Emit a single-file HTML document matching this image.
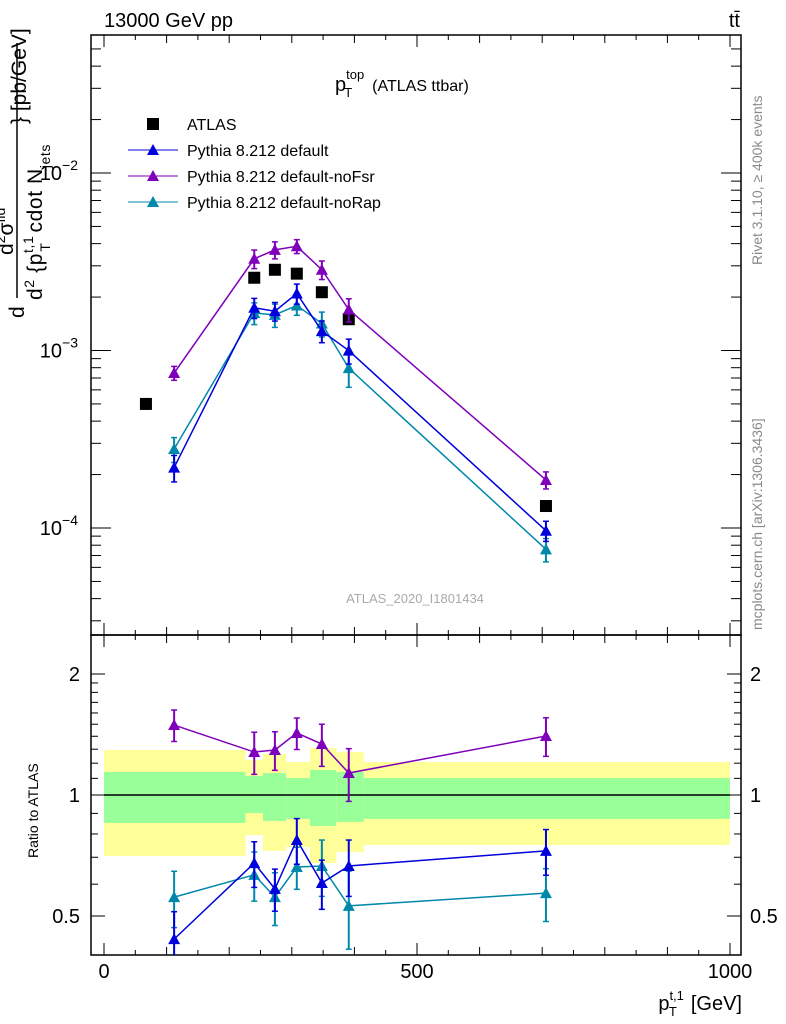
<!DOCTYPE html>
<html><head><meta charset="utf-8"><style>
body{margin:0;background:#fff;}
svg{display:block;font-family:"Liberation Sans",sans-serif;}
</style></head><body>
<svg id="c" width="786" height="1024" viewBox="0 0 786 1024" xmlns="http://www.w3.org/2000/svg">
<text x="104" y="27" font-size="20">13000 GeV pp</text>
<text x="740" y="27" font-size="20" text-anchor="end">tt̄</text>
<text x="335" y="91" font-size="20">p<tspan font-size="13" dy="-12">top</tspan><tspan font-size="13" dx="-20" dy="18">T</tspan><tspan font-size="16" dx="20" dy="-6">(ATLAS ttbar)</tspan></text>
<text x="415" y="603" font-size="13" fill="#aaa" text-anchor="middle">ATLAS_2020_I1801434</text>
<text transform="translate(762,265) rotate(-90)" font-size="14" fill="#888">Rivet 3.1.10, ≥ 400k events</text>
<text transform="translate(762,630) rotate(-90)" font-size="14" fill="#888">mcplots.cern.ch [arXiv:1306.3436]</text>
<g font-size="21">
<text transform="translate(24,318) rotate(-90)">d</text>
<line x1="17" y1="298" x2="17" y2="43" stroke="#000" stroke-width="1.5"/>
<text transform="translate(13,255) rotate(-90)">d<tspan font-size="14" dy="-8">2</tspan><tspan dy="8">σ</tspan><tspan font-size="14" dy="-8">fid</tspan></text>
<text transform="translate(42,300) rotate(-90)" letter-spacing="0.6">d<tspan font-size="14" dy="-8">2</tspan><tspan dy="8"> {p</tspan><tspan font-size="14" dy="-9">t,1</tspan><tspan font-size="14" dx="-16" dy="17">T</tspan><tspan dy="-8" dx="10">cdot N</tspan><tspan font-size="14" dy="8">jets</tspan></text>
<text transform="translate(26,124) rotate(-90)"><tspan>} [pb/GeV]</tspan></text>
</g>
<text transform="translate(38,858) rotate(-90)" font-size="14">Ratio to ATLAS</text>
<text x="742" y="1010" font-size="20" text-anchor="end">p<tspan font-size="13" dy="-10">t,1</tspan><tspan font-size="13" dx="-15" dy="16">T</tspan><tspan dy="-6" dx="14">[GeV]</tspan></text>
<g id="bands"></g><g id="axes"></g><g id="marks"></g>
<g font-size="16">
<rect x="147" y="118" width="12" height="12" fill="#000"/>
<text x="187" y="130">ATLAS</text>
<line x1="128" y1="150" x2="178" y2="150" stroke="#0000dd"/><polygon points="147,155 159,155 153,144" fill="#0000dd"/>
<text x="187" y="156">Pythia 8.212 default</text>
<line x1="128" y1="176" x2="178" y2="176" stroke="#7f00bb"/><polygon points="147,181 159,181 153,170" fill="#7f00bb"/>
<text x="187" y="182">Pythia 8.212 default-noFsr</text>
<line x1="128" y1="202" x2="178" y2="202" stroke="#0088aa"/><polygon points="147,207 159,207 153,196" fill="#0088aa"/>
<text x="187" y="208">Pythia 8.212 default-noRap</text>
</g>
</svg>
<script>
const binEdges=[0,226,254,291,329,371,415,1000];
const xPts=[112,240,273,308,348,391,706];
const atlasX=[67,240,273,308,348,391,706];
const atlasVals=[5.0e-4,2.57e-3,2.85e-3,2.71e-3,2.13e-3,1.50e-3,1.33e-4];
const yellowUp=[1.294,1.222,1.265,1.208,1.309,1.279,1.208];
const yellowDn=[0.705,0.795,0.726,0.742,0.677,0.721,0.751];
const greenUp=[1.141,1.115,1.134,1.102,1.154,1.141,1.102];
const greenDn=[0.852,0.902,0.862,0.872,0.837,0.857,0.872];
const ratioDefault=[0.438,0.677,0.584,0.773,0.604,0.666,0.726];
const ratioNoFsr=[1.493,1.279,1.294,1.426,1.339,1.134,1.402];
const ratioNoRap=[0.557,0.633,0.557,0.662,0.666,0.530,0.570];
const errDefault=[0.17,0.13,0.12,0.13,0.14,0.16,0.13];
const errNoFsr=[0.09,0.12,0.11,0.09,0.12,0.15,0.11];
const errNoRap=[0.16,0.14,0.15,0.12,0.16,0.22,0.15];
const xTicksMajor=[0,500,1000];
const ratioTickLabels=[0.5,1,2];
const mainTickLabels=[-4,-3,-2];

const NS='http://www.w3.org/2000/svg';
const L=91,R=741,T=35,M=635,B=955;
const X=v=>104+v*0.626;
const Y=v=>173-(Math.log10(v)+2)*177.5;
const RY=r=>795-Math.log2(r)*121;
function mk(tag,attrs,parent){const e=document.createElementNS(NS,tag);for(const k in attrs)e.setAttribute(k,attrs[k]);parent.appendChild(e);return e;}
const bands=document.getElementById('bands'),axes=document.getElementById('axes'),marks=document.getElementById('marks');
for(let i=0;i<7;i++){
  const x1=X(binEdges[i]),x2=X(binEdges[i+1]);
  let y=mk('rect',{x:x1,y:RY(yellowUp[i]),width:x2-x1,height:RY(yellowDn[i])-RY(yellowUp[i]),fill:'#ffff99'},bands);
  
  
  let g=mk('rect',{x:x1,y:RY(greenUp[i]),width:x2-x1,height:RY(greenDn[i])-RY(greenUp[i]),fill:'#99ff99'},bands);
  
  
}
let one=mk('line',{x1:X(0),x2:X(1000),y1:RY(1),y2:RY(1),stroke:'#000','stroke-width':1.5},bands);


let f1=mk('rect',{x:L,y:T,width:R-L,height:M-T,fill:'none',stroke:'#000','stroke-width':1.5},axes);


let f2=mk('rect',{x:L,y:M,width:R-L,height:B-M,fill:'none',stroke:'#000','stroke-width':1.5},axes);


function tick(x1,y1,x2,y2){mk('line',{x1,y1,x2,y2,stroke:'#000','stroke-width':1},axes);}
for(let v=0;v<=1000;v+=50){const x=X(v);const len=v%500===0?12:(v%100===0?8:5);
  tick(x,B,x,B-len);tick(x,M,x,M-len);tick(x,M,x,M+len);tick(x,T,x,T+len);}
xTicksMajor.forEach(v=>{let t=mk('text',{x:X(v),y:978,'font-size':20,'text-anchor':'middle'},axes);t.textContent=v;
  
  });
for(let d=-5;d<=-1;d++)for(let m=1;m<10;m++){const v=m*Math.pow(10,d);const y=Y(v);if(y<T||y>M)continue;
  const len=m===1?20:10;tick(L,y,L+len,y);tick(R,y,R-len,y);}
mainTickLabels.forEach(d=>{let t=mk('text',{x:78,y:Y(Math.pow(10,d))+7,'font-size':20,'text-anchor':'end'},axes);
  t.textContent='10';let s=mk('tspan',{'font-size':14,dy:-10},t);s.textContent='−'+(-d);
  
  });
for(let r=0.4;r<=2.51;r+=(r<1.99?0.1:0.5)){const y=RY(r);if(y<M||y>B)continue;
  const maj=[0.5,1,2].some(q=>Math.abs(q-r)<1e-6);const len=maj?14:7;tick(L,y,L+len,y);tick(R,y,R-len,y);}
ratioTickLabels.forEach(r=>{let t=mk('text',{x:80,y:RY(r)+7,'font-size':20,'text-anchor':'end'},axes);t.textContent=r;
  
  
  let t2=mk('text',{x:750,y:RY(r)+7,'font-size':20},axes);t2.textContent=r;
  
  });
atlasVals.forEach((v,i)=>{let s=mk('rect',{x:X(atlasX[i])-6,y:Y(v)-6,width:12,height:12,fill:'#000'},marks);
  
  });
function clipY(y,top,bot){return Math.max(top,Math.min(bot,y));}
function series(ratios,errs,color,name){
  const main=ratios.map((r,i)=>r*atlasVals[i]);
  let p1=mk('polyline',{points:xPts.map((x,i)=>X(x)+','+Y(main[i])).join(' '),fill:'none',stroke:color,'stroke-width':1.5},marks);
  
  
  let p2=mk('polyline',{points:xPts.map((x,i)=>X(x)+','+clipY(RY(ratios[i]),M,B)).join(' '),fill:'none',stroke:color,'stroke-width':1.5},marks);
  
  
  xPts.forEach((xv,i)=>{const x=X(xv);
    [[Y(main[i]*(1+errs[i])),Y(main[i]*(1-errs[i])),Y(main[i]),T,M],[RY(ratios[i]*(1+errs[i])),RY(ratios[i]*(1-errs[i])),RY(ratios[i]),M,B]].forEach(([a,b,c,top,bot])=>{
      a=clipY(a,top,bot);b=clipY(b,top,bot);
      mk('line',{x1:x,x2:x,y1:a,y2:b,stroke:color,'stroke-width':2},marks);
      if(a>top)mk('line',{x1:x-3,x2:x+3,y1:a,y2:a,stroke:color,'stroke-width':1.5},marks);
      if(b<bot)mk('line',{x1:x-3,x2:x+3,y1:b,y2:b,stroke:color,'stroke-width':1.5},marks);
      if(c>=top&&c<=bot){let tr=mk('polygon',{points:`${x-6},${c+5} ${x+6},${c+5} ${x},${c-6}`,fill:color},marks);
        
        }
    });
  });
}
series(ratioNoFsr,errNoFsr,'#7f00bb','nofsr');
series(ratioNoRap,errNoRap,'#0088aa','norap');
series(ratioDefault,errDefault,'#0000dd','default');
</script>
</body></html>
